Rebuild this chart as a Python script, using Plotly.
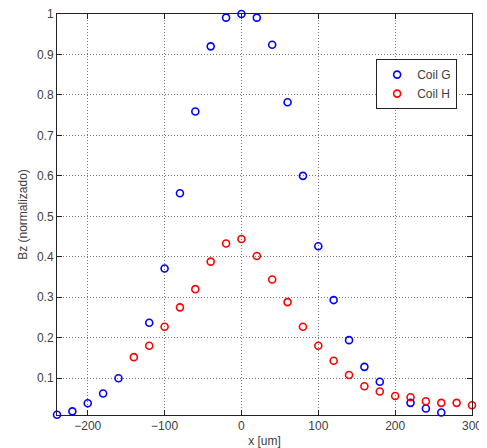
import plotly.graph_objects as go

x_g = [-240, -220, -200, -180, -160, -120, -100, -80, -60, -40, -20, 0,
       20, 40, 60, 80, 100, 120, 140, 160, 180, 220, 240, 260]
y_g = [0.0095, 0.018, 0.038, 0.062, 0.100, 0.237, 0.371, 0.557, 0.759, 0.920, 0.991, 1.000,
       0.991, 0.924, 0.782, 0.600, 0.426, 0.293, 0.194, 0.128, 0.091, 0.039, 0.025, 0.015]

x_h = [-140, -120, -100, -80, -60, -40, -20, 0, 20, 40, 60, 80, 100, 120,
       140, 160, 180, 200, 220, 240, 260, 280, 300]
y_h = [0.152, 0.180, 0.227, 0.275, 0.320, 0.388, 0.433, 0.444, 0.402, 0.344, 0.288, 0.227, 0.180, 0.143,
       0.108, 0.080, 0.067, 0.056, 0.053, 0.043, 0.039, 0.039, 0.033]

x_ticks = [-200, -100, 0, 100, 200, 300]
y_ticks = [0.1, 0.2, 0.3, 0.4, 0.5, 0.6, 0.7, 0.8, 0.9, 1.0]
y_tick_text = ["0.1", "0.2", "0.3", "0.4", "0.5", "0.6", "0.7", "0.8", "0.9", "1"]

fig = go.Figure()
fig.add_trace(go.Scatter(x=x_g, y=y_g, mode="markers", name="Coil G",
                         marker=dict(symbol="circle-open", size=7, color="#0000ff",
                                     line=dict(width=1.6, color="#0000ff")),
                         cliponaxis=False))
fig.add_trace(go.Scatter(x=x_h, y=y_h, mode="markers", name="Coil H",
                         marker=dict(symbol="circle-open", size=7, color="#ff0000",
                                     line=dict(width=1.6, color="#ff0000")),
                         cliponaxis=False))

axis_common = dict(showline=True, linecolor="#222222", linewidth=1, mirror="ticks",
                   ticks="inside", ticklen=5, tickcolor="#222222",
                   showgrid=True, gridcolor="#777777", griddash="1px,2px", gridwidth=1,
                   zeroline=False, automargin=False, ticklabeloverflow="allow",
                   tickfont=dict(size=12, color="#404040"))

fig.update_xaxes(range=[-240, 300], tickvals=x_ticks,
                 title=dict(text="x [um]", font=dict(size=12, color="#404040"), standoff=8),
                 **axis_common)
fig.update_yaxes(range=[0.009, 1.0], tickvals=y_ticks, ticktext=y_tick_text,
                 title=dict(text="Bz (normalizado)", font=dict(size=12, color="#404040"), standoff=6),
                 **axis_common)

fig.update_layout(
    width=479, height=440,
    margin=dict(l=49, r=15, t=6, b=33),
    paper_bgcolor="white", plot_bgcolor="white",
    font=dict(family="Liberation Sans, Arial, sans-serif", size=12, color="#404040"),
    legend=dict(x=0.769, y=0.8875, xanchor="left", yanchor="top",
                bgcolor="white", bordercolor="#222222", borderwidth=1,
                font=dict(size=12, color="#404040"), itemwidth=30,
                tracegroupgap=0),
    showlegend=True,
)

fig.write_html("out.html")
